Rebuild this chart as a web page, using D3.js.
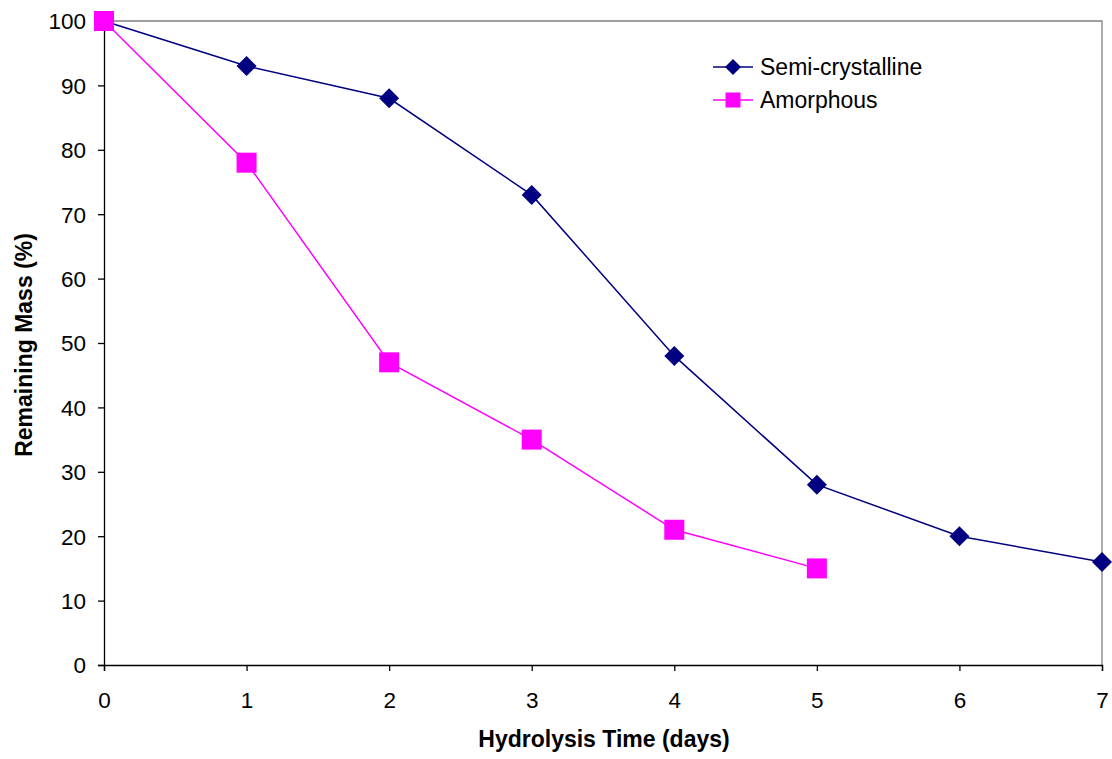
<!DOCTYPE html>
<html>
<head>
<meta charset="utf-8">
<script src="https://cdn.jsdelivr.net/npm/d3@7"></script>
<style>
  body { margin: 0; background: #fff; }
  svg { display: block; font-family: "Liberation Sans", Arial, sans-serif; }
</style>
</head>
<body>
<svg id="chart" width="1112" height="759"></svg>
<script>
// Hydrolysis mass-loss data (days vs remaining mass %)
const days = [0, 1, 2, 3, 4, 5, 6, 7];
const semiCrystalline = [100, 93, 88, 73, 48, 28, 20, 16];
const amorphous = [100, 78, 47, 35, 21, 15];
const xTicks = [0, 1, 2, 3, 4, 5, 6, 7];
const yTicks = [0, 10, 20, 30, 40, 50, 60, 70, 80, 90, 100];

const seriesNames = ["Semi-crystalline", "Amorphous"];
const seriesColors = ["#000080", "#FF00FF"];

const svg = d3.select("#chart");
const plotLeft = 104, plotRight = 1102, plotTop = 21, plotBottom = 665;

const x = d3.scaleLinear().domain([0, 7]).range([plotLeft, plotRight]);
const y = d3.scaleLinear().domain([0, 100]).range([plotBottom, plotTop]);

// plot frame (top and right edges in gray)
svg.append("path")
  .attr("d", `M${plotLeft},${plotTop}H${plotRight}V${plotBottom}`)
  .attr("fill", "none").attr("stroke", "#808080").attr("stroke-width", 1.3);

// axes
const xAxis = svg.append("g").attr("transform", `translate(0,${plotBottom})`)
  .call(d3.axisBottom(x).tickValues(xTicks).tickFormat(d3.format("d")).tickSizeOuter(0).tickSize(6));
const yAxis = svg.append("g").attr("transform", `translate(${plotLeft},0)`)
  .call(d3.axisLeft(y).tickValues(yTicks).tickSizeOuter(0).tickSize(6));

[xAxis, yAxis].forEach(g => {
  g.select(".domain").attr("stroke", "#000").attr("stroke-width", 1.3);
  g.selectAll(".tick line").attr("stroke", "#000").attr("stroke-width", 1.3);
  g.selectAll(".tick text").attr("fill", "#000")
    .style("font-size", "22.5px").style("font-family", "Liberation Sans, Arial, sans-serif");
});
xAxis.selectAll(".tick text").attr("dy", "0.71em").attr("y", 27);
yAxis.selectAll(".tick text").attr("x", -18).attr("dy", "0.35em");

// axis titles
svg.append("text").attr("x", 604).attr("y", 747)
  .attr("text-anchor", "middle").style("font-size", "23px").style("font-weight", "bold")
  .text("Hydrolysis Time (days)");
svg.append("text")
  .attr("transform", `translate(32,345) rotate(-90)`)
  .attr("text-anchor", "middle").style("font-size", "23px").style("font-weight", "bold")
  .text("Remaining Mass (%)");

const line = d3.line().x(d => x(d[0])).y(d => y(d[1]));

const diamond = (g, cx, cy, r, color) =>
  g.append("path")
    .attr("d", `M${cx},${cy - r}L${cx + r},${cy}L${cx},${cy + r}L${cx - r},${cy}Z`)
    .attr("fill", color);
const square = (g, cx, cy, s, color) =>
  g.append("rect").attr("x", cx - s / 2).attr("y", cy - s / 2)
    .attr("width", s).attr("height", s).attr("fill", color);

// Semi-crystalline series
const semiPts = semiCrystalline.map((v, i) => [days[i], v]);
svg.append("path").attr("d", line(semiPts)).attr("fill", "none")
  .attr("stroke", seriesColors[0]).attr("stroke-width", 1.5);
const gSemi = svg.append("g");
semiPts.forEach(p => diamond(gSemi, x(p[0]), y(p[1]), 10, seriesColors[0]));

// Amorphous series
const amPts = amorphous.map((v, i) => [days[i], v]);
svg.append("path").attr("d", line(amPts)).attr("fill", "none")
  .attr("stroke", seriesColors[1]).attr("stroke-width", 1.5);
const gAm = svg.append("g");
amPts.forEach(p => square(gAm, x(p[0]), y(p[1]), 20, seriesColors[1]));

// legend
const legend = svg.append("g");
seriesNames.forEach((name, i) => {
  const ly = 67 + i * 33;
  legend.append("line").attr("x1", 713).attr("x2", 753).attr("y1", ly).attr("y2", ly)
    .attr("stroke", seriesColors[i]).attr("stroke-width", 1.5);
  if (i === 0) diamond(legend, 733, ly, 8, seriesColors[i]);
  else square(legend, 733, ly, 15, seriesColors[i]);
  legend.append("text").attr("x", 760).attr("y", ly).attr("dy", "0.35em")
    .style("font-size", "23px").text(name);
});
</script>
</body>
</html>
